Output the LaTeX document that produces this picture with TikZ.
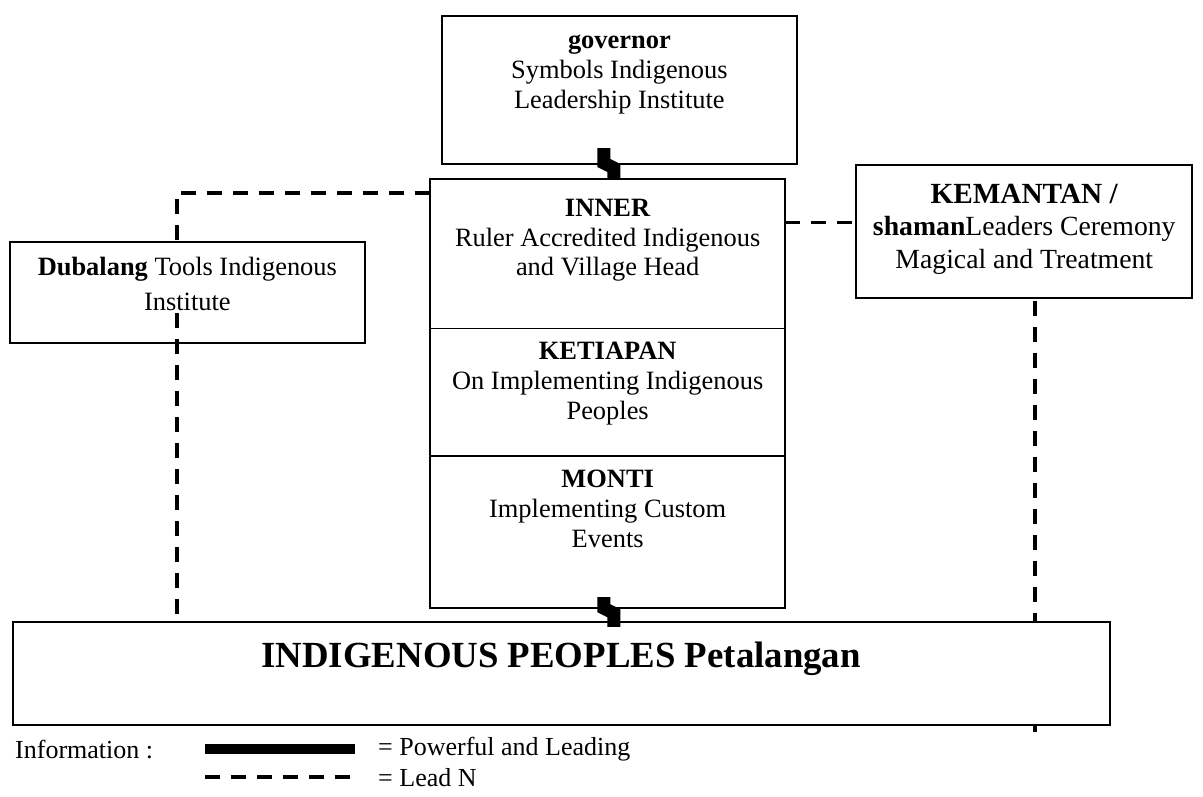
\documentclass[tikz,border=0pt]{standalone}
\usepackage{fontspec}
\setmainfont{Liberation Serif}
\usetikzlibrary{positioning,calc}

\begin{document}
\begin{tikzpicture}[
    node distance=0.235cm and 1cm,
    box/.style={rectangle, draw, line width=0.9pt, fill=white, outer sep=0pt},
    txt/.style={align=center, inner sep=0pt, font=\fontsize{12.2}{13.8}\selectfont},
    keytxt/.style={anchor=west, inner sep=0pt, font=\fontsize{12}{14}\selectfont},
    lead/.style={draw, line width=1.8pt, dash pattern=on 7pt off 5pt},
    power/.style={draw, line width=6pt}
]
    \useasboundingbox (0,0) rectangle (19.52,-12.92);
    % dashed line under the people box
    \coordinate (kemin) at (16.80,-4.46);
    \coordinate (kemend) at (16.80,-12.01);
    \path [lead] (kemin) -- (kemend);

    \node [box, minimum width=5.76cm, minimum height=2.41cm] (gov) at (10.05,-1.46) {};
    \node [box, minimum width=5.76cm, minimum height=2.43cm, below=of gov, xshift=-0.19cm] (inner) {};
    \node [box, minimum width=5.76cm, minimum height=2.07cm, below=0cm of inner] (ketiapan) {};
    \node [box, minimum width=5.76cm, minimum height=2.47cm, below=0cm of ketiapan] (monti) {};
    \node [box, minimum width=5.76cm, minimum height=1.64cm] (dub) at (3.04,-4.75) {};
    \node [box, minimum width=5.45cm, minimum height=2.16cm] (kem) at (16.62,-3.76) {};
    \node [box, minimum width=17.80cm, minimum height=1.67cm, below=0.23cm of monti, xshift=-0.755cm] (indig) {};

    \node [txt, below=0.31cm of gov.north] (govtxt) {\textbf{governor}\\Symbols Indigenous\\Leadership Institute};
    \node [txt, below=0.32cm of inner.north] (innertxt) {\textbf{INNER}\\Ruler Accredited Indigenous\\and Village Head};
    \node [txt, below=0.22cm of ketiapan.north] (ketiapantxt) {\textbf{KETIAPAN}\\On Implementing Indigenous\\Peoples};
    \node [txt, below=0.22cm of monti.north] (montitxt) {\textbf{MONTI}\\Implementing Custom\\Events};
    \node [txt, font=\fontsize{12.2}{16}\selectfont, below=0.24cm of dub.north] (dubtxt) {\textbf{Dubalang} Tools Indigenous\\Institute};
    \node [txt, font=\fontsize{12.8}{15}\selectfont, below=0.3cm of kem.north] (kemtxt) {{\fontsize{13.5}{15}\selectfont\textbf{KEMANTAN /}}\\\textbf{shaman}Leaders Ceremony\\Magical and Treatment};
    \node [txt, font=\fontsize{17}{20}\selectfont\bfseries] (indigtxt) at ([yshift=0.24cm]indig.center) {INDIGENOUS PEOPLES Petalangan};

    % dashed lines
    \coordinate (lcorner) at (2.865,-3.13);
    \coordinate (dubin) at (2.865,-5.08);
    \path [lead] (lcorner -| inner.west) -- (lcorner) -- (lcorner |- dub.north);
    \path [lead] (dubin) -- (dubin |- indig.north);
    \path [lead] ([yshift=0.15cm]kem.west -| inner.east) -- ([yshift=0.15cm]kem.west);

    % thick links
    \path [power] ($(inner.north |- gov.south)+(-0.06,0.26)$) -- ($(inner.north |- gov.south)+(-0.06,0.02)$) -- ($(inner.north |- gov.south)+(0.10,-0.06)$) -- ($(inner.north)+(0.10,0)$);
    \path [power] ($(monti.south)+(-0.06,0.18)$) -- ($(monti.south)+(-0.06,0)$) -- ($(monti.south)+(0.10,-0.08)$) -- ($(monti.south |- indig.north)+(0.10,-0.07)$);

    % key
    \node [keytxt] (info) at (0.24,-12.16) {Information :};
    \coordinate (powa) at (3.33,-12.16);
    \coordinate (powb) at (5.76,-12.16);
    \path [draw, line width=4.6pt] (powa) -- (powb);
    \node [keytxt] (powkey) at (6.13,-12.16) {= Powerful and Leading};
    \coordinate (leada) at (3.33,-12.61);
    \coordinate (leadb) at (5.76,-12.61);
    \path [lead] (leada) -- (leadb);
    \node [keytxt] (leadkey) at (6.13,-12.61) {= Lead N};
\end{tikzpicture}
\end{document}
